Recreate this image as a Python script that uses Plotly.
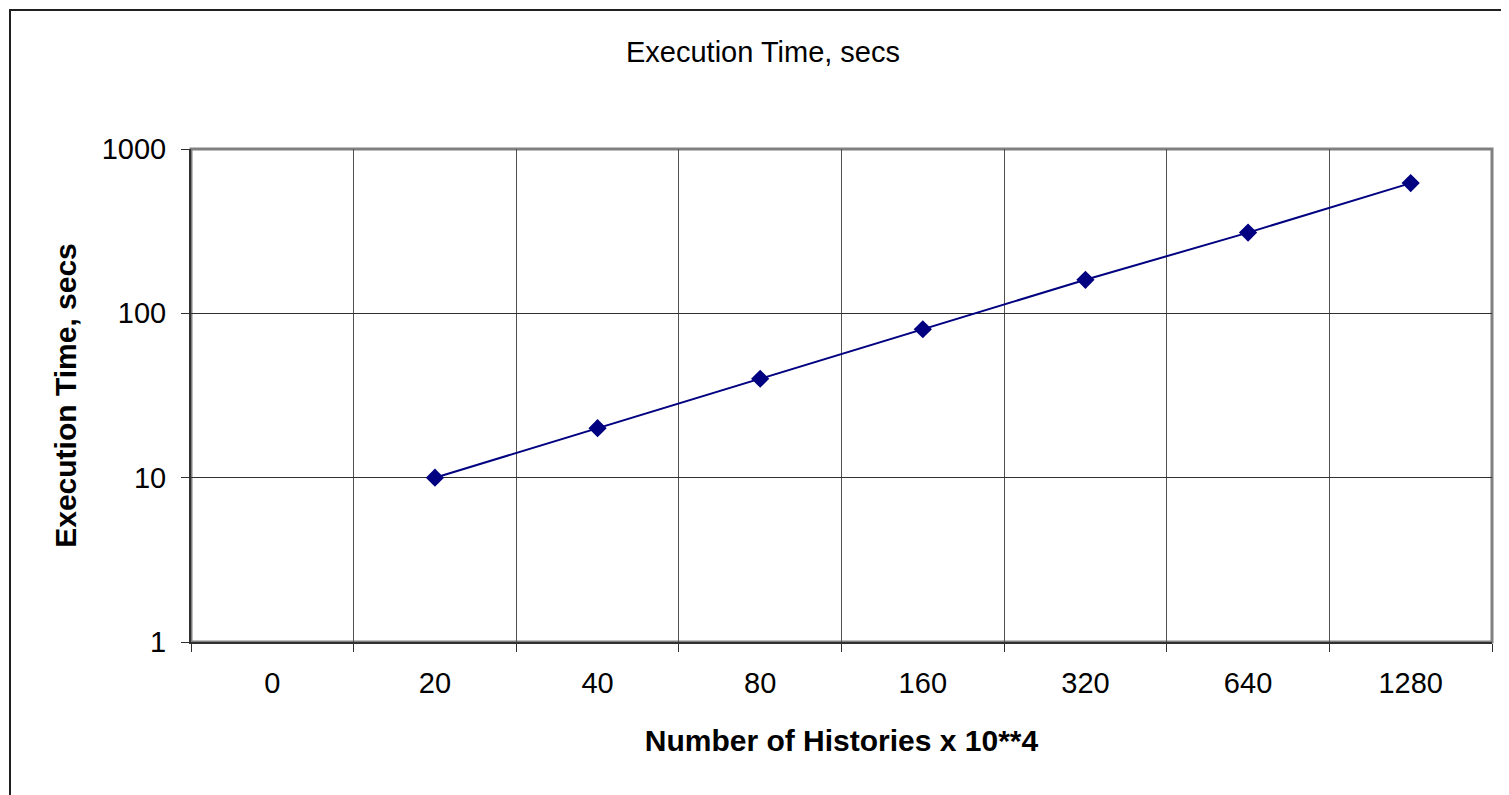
import plotly.graph_objects as go

categories = ["0", "20", "40", "80", "160", "320", "640", "1280"]
exec_time = [None, 10, 20, 40, 80, 160, 310, 620]
y_ticks = [1, 10, 100, 1000]

OFF = 8  # page body margin
W, H = 1509 - OFF, 795 - OFF
L, T = 191 - OFF, 149 - OFF
R = W - (1492 - OFF)
B = H - (642 - OFF)
pw, ph = W - L - R, H - T - B

fig = go.Figure()
fig.add_trace(go.Scatter(
    x=categories, y=exec_time, mode="lines+markers",
    line=dict(color="#000080", width=2),
    marker=dict(symbol="diamond", size=14, color="#000080"),
    connectgaps=False, showlegend=False,
))

fig.update_layout(
    width=W, height=H,
    margin=dict(l=L, r=R, t=T, b=B),
    paper_bgcolor="white", plot_bgcolor="white",
    font=dict(family="Liberation Sans, Arial, sans-serif", color="black", size=29),
    title=dict(text="Execution Time, secs", x=(763 - OFF - L) / pw, xref="paper",
               y=1 - (52 - OFF) / H, yanchor="middle", xanchor="center",
               font=dict(size=29, color="black")),
    xaxis=dict(
        type="category", range=[-0.5, 7.5], tickson="boundaries",
        showgrid=True, gridcolor="#505050", gridwidth=1,
        showline=True, linecolor="#303030", linewidth=2,
        ticks="outside", ticklen=8, tickcolor="#303030",
        tickfont=dict(size=29), zeroline=False, ticklabelstandoff=14,
        title=dict(text="<b>Number of Histories x 10**4</b>", font=dict(size=30), standoff=32),
    ),
    yaxis=dict(
        type="log", range=[0, 3], tickvals=y_ticks, ticktext=[str(v) for v in y_ticks],
        showgrid=True, gridcolor="#303030", gridwidth=1,
        showline=True, linecolor="#303030", linewidth=2,
        ticks="outside", ticklen=8, tickcolor="#303030",
        tickfont=dict(size=29), zeroline=False, ticklabelstandoff=9,
        title=dict(text="<b>Execution Time, secs</b>", font=dict(size=30), standoff=16),
    ),
)

# gray plot-area frame (top/right)
fig.add_shape(type="rect", xref="paper", yref="paper", x0=0, y0=0, x1=1, y1=1,
              line=dict(color="#808080", width=3), layer="below")
# outer chart border
fig.add_shape(type="rect", xref="paper", yref="paper",
              x0=(10 - OFF - L) / pw, x1=(W + 20 - L) / pw,
              y0=(T + ph - (H + 20)) / ph, y1=(T + ph - (10 - OFF)) / ph,
              line=dict(color="#202020", width=2))

fig.write_html("out.html")
